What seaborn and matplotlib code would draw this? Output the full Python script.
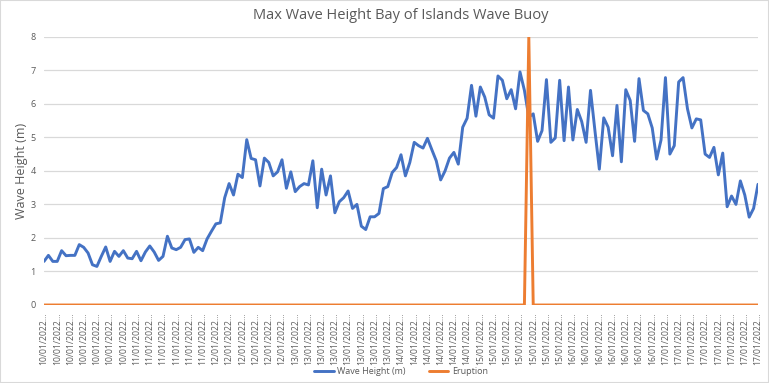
import numpy as np
import pandas as pd
import matplotlib.pyplot as plt
import seaborn as sns

# label per day and how many readings fall on that day
days = ['10/01/2022', '11/01/2022', '12/01/2022', '13/01/2022',
        '14/01/2022', '15/01/2022', '16/01/2022', '17/01/2022']
readings_per_day = [21, 18, 18, 24, 18, 21, 21, 22]

wave_height = [
    1.30, 1.48, 1.30, 1.30, 1.62, 1.47, 1.48, 1.48, 1.80, 1.72,
    1.55, 1.20, 1.15, 1.45, 1.73, 1.30, 1.60, 1.45, 1.62, 1.40,
    1.38, 1.60, 1.32, 1.58, 1.76, 1.58, 1.33, 1.45, 2.05, 1.70,
    1.65, 1.72, 1.95, 1.97, 1.57, 1.72, 1.62, 1.97, 2.20, 2.42,
    2.45, 3.20, 3.62, 3.28, 3.90, 3.80, 4.93, 4.37, 4.33, 3.55,
    4.38, 4.25, 3.85, 3.97, 4.33, 3.48, 3.97, 3.38, 3.53, 3.62,
    3.58, 4.30, 2.90, 4.05, 3.28, 3.85, 2.75, 3.08, 3.20, 3.40,
    2.88, 3.00, 2.35, 2.25, 2.63, 2.63, 2.73, 3.47, 3.53, 3.95,
    4.10, 4.48, 3.85, 4.25, 4.85, 4.75, 4.68, 4.97, 4.63, 4.30,
    3.73, 4.00, 4.38, 4.55, 4.20, 5.30, 5.57, 6.55, 5.63, 6.50,
    6.20, 5.67, 5.57, 6.83, 6.70, 6.15, 6.42, 5.85, 6.95, 6.40,
    5.60, 5.70, 4.88, 5.20, 6.72, 4.85, 4.98, 6.70, 4.90, 6.50,
    4.92, 5.83, 5.47, 4.85, 6.40, 5.20, 4.05, 5.58, 5.30, 4.45,
    5.95, 4.27, 6.42, 6.10, 4.88, 6.75, 5.80, 5.70, 5.28, 4.35,
    4.92, 6.78, 4.50, 4.75, 6.65, 6.78, 5.85, 5.28, 5.55, 5.52,
    4.50, 4.40, 4.70, 3.88, 4.53, 2.93, 3.25, 3.00, 3.70, 3.28,
    2.62, 2.88, 3.60,
]

eruption_index = 110
eruption_height = 8

timestamps = np.repeat(days, readings_per_day)
eruption = np.zeros(len(wave_height))
eruption[eruption_index] = eruption_height

df = pd.DataFrame({'pos': np.arange(len(wave_height)),
                   'Wave Height (m)': wave_height,
                   'Eruption': eruption})
long_df = df.melt(id_vars='pos', var_name='series', value_name='height')

sns.set_style('white')
plt.rcParams['font.family'] = ['Open Sans', 'DejaVu Sans']

fig = plt.figure(figsize=(7.69, 3.83), dpi=100)
ax = fig.add_axes([44 / 769, 78 / 383, 714 / 769, 268.3 / 383])

sns.lineplot(data=long_df, x='pos', y='height', hue='series',
             palette={'Wave Height (m)': '#4472C4', 'Eruption': '#ED7D31'},
             linewidth=2.1, ax=ax, legend=True)
for ln in ax.lines:
    ln.set_solid_joinstyle('round')
    ln.set_clip_on(True)

ax.set_xlim(0, len(wave_height) - 1)
ax.set_ylim(0, 8)
ax.set_yticks(range(0, 9))
ax.yaxis.grid(True, color='#d9d9d9', linewidth=0.9)
ax.set_axisbelow(True)
for s in ax.spines.values():
    s.set_visible(False)

tick_pos = np.arange(0, len(wave_height), 3)
ax.set_xticks(tick_pos)
ax.set_xticklabels([timestamps[p] + '\u2026' for p in tick_pos],
                   rotation=90, fontsize=6.2, color='#595959')
ax.tick_params(axis='x', length=3, width=0.7, color='#bfbfbf', pad=2)
ax.tick_params(axis='y', length=0, labelsize=6.5, labelcolor='#595959', pad=6)

ax.set_xlabel('')
ax.set_ylabel('Wave Height (m)', fontsize=9, color='#595959', labelpad=2)
ax.set_title('Max Wave Height Bay of Islands Wave Buoy', fontsize=10.5,
             color='#595959', pad=13)

leg = ax.legend(loc='upper center', bbox_to_anchor=(0.5, -0.2), ncol=2,
                frameon=False, fontsize=6.5, handlelength=2.2,
                columnspacing=2.5, handletextpad=0.4)
for t in leg.get_texts():
    t.set_color('#595959')

fig.patches.append(plt.Rectangle((0, 0), 1, 1, transform=fig.transFigure,
                                 fill=False, edgecolor='#d9d9d9', linewidth=1.5))

fig.savefig('out.png', dpi=100)
